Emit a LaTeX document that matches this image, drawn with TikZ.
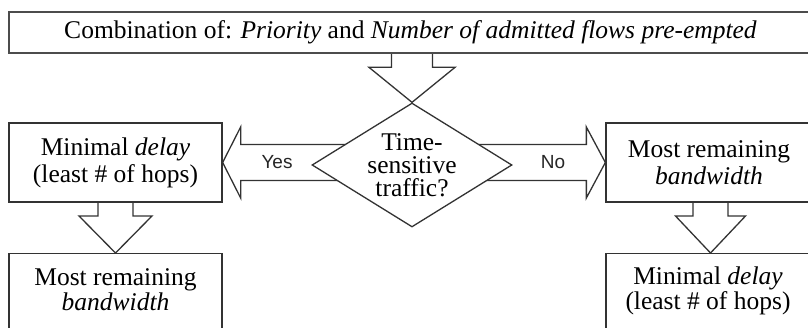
\documentclass[tikz,border=0pt]{standalone}
\usepackage{fontspec}
\setmainfont{Liberation Serif}
\newfontfamily\yesnofont{Liberation Sans}
\usetikzlibrary{shapes.geometric,calc,backgrounds}
% fat block arrow pointing down: #1 start (top middle), #2 tip, #3 shaft half-width, #4 head half-width, #5 head length
\newcommand\fatdown[5]{%
  \draw[fat] ($(#1)+(-#3,0)$) -- ($(#2)+(-#3,-#5)$) -- ($(#2)+(-#4,-#5)$) -- (#2)
    -- ($(#2)+(#4,-#5)$) -- ($(#2)+(#3,-#5)$) -- ($(#1)+(#3,0)$);}
% fat block arrow horizontal: #1 start, #2 tip, #3 shaft half-width, #4 head half-width, #5 signed head length
\newcommand\fathoriz[5]{%
  \draw[fat] ($(#1)+(0,-#3)$) -- ($(#2)+(#5,-#3)$) -- ($(#2)+(#5,-#4)$) -- (#2)
    -- ($(#2)+(#5,#4)$) -- ($(#2)+(#5,#3)$) -- ($(#1)+(0,#3)$);}
\begin{document}
\begin{tikzpicture}[x=1pt,y=-1pt,line width=1.3pt,
  box/.style={draw=black!80, line width=1.3pt, fill=white, rectangle, inner sep=0pt, align=center,
    font=\fontsize{25.5}{27}\selectfont},
  txt/.style={inner sep=0pt, align=center, font=\fontsize{25.5}{25}\selectfont},
  dia/.style={draw=black!80, line width=1.3pt, fill=white, diamond, inner sep=0pt, aspect=1.6,
    minimum width=200pt, minimum height=124pt, align=center,
    font=\fontsize{25.5}{23}\selectfont},
  lab/.style={font=\yesnofont\fontsize{19}{21}\selectfont, inner sep=0pt, text=black!85},
  fat/.style={draw=black!80, line width=1.3pt, line join=miter}]
\useasboundingbox (0,0) rectangle (808,328);
\clip (0,0) rectangle (808,328);

\node[box, line width=1.8pt, draw=black!70, minimum width=803pt, minimum height=41pt] (top) at (410.5,32.5)
  {Combination of: \textit{Priority} and \textit{Number of admitted flows pre-empted}};
\node[dia] (dec) at (412,165) {Time-\\sensitive\\traffic?};
\node[box, minimum width=213pt, minimum height=79pt] (L1) at (115.5,162.5)
  {Minimal \textit{delay}\\(least \# of hops)};
\node[box, minimum width=206pt, minimum height=79pt] (R1) at (709,162.5)
  {Most remaining\\\textit{bandwidth}};
\node[box, anchor=north, minimum width=213pt, minimum height=90pt] (L2) at (115.5,253) {};
\node[txt] (L2t) at ($(L2.north)+(0,37)$) {Most remaining\\\textit{bandwidth}};
\node[box, anchor=north, minimum width=206pt, minimum height=90pt] (R2) at (709,253) {};
\node[txt] (R2t) at ($(R2.north)+(-1,38)$) {Minimal \textit{delay}\\(least \# of hops)};

\node[lab] (yes) at (277,162) {Yes};
\node[lab] (no) at (553,162) {No};

\begin{pgfonlayer}{background}
  \fill[white] (0,0) rectangle (808,328);
  \fatdown{dec.north |- top.south}{dec.north}{20.5}{43}{35}
  \fatdown{L1.south}{L2.north}{17.5}{36.5}{37}
  \fatdown{R1.south -| 710.5,0}{710.5,253}{17.5}{35}{37}
  \fathoriz{dec.center |- L1.east}{L1.east}{18}{35.5}{18}
  \fathoriz{dec.center |- R1.west}{R1.west}{18}{35.5}{-19}
\end{pgfonlayer}
\end{tikzpicture}
\end{document}
